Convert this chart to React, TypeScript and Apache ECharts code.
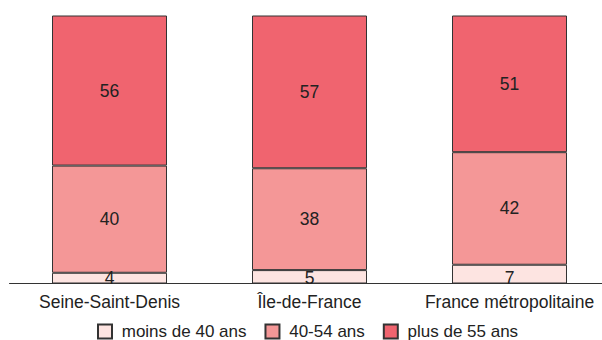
import React, { useEffect, useRef } from "react";
import * as echarts from "echarts";

const categories = ["Seine-Saint-Denis", "Île-de-France", "France métropolitaine"];
const seriesNames = ["moins de 40 ans", "40-54 ans", "plus de 55 ans"];
const under40 = [4, 5, 7];
const from40to54 = [40, 38, 42];
const over55 = [56, 57, 51];
const colors = ["#FDE4E1", "#F49797", "#F0646F"];

export default function App() {
  const ref = useRef<HTMLDivElement>(null);

  useEffect(() => {
    if (!ref.current) return;
    const chart = echarts.init(ref.current, undefined, { renderer: "svg" });
    const values = [under40, from40to54, over55];
    chart.setOption({
      animation: false,
      textStyle: { fontFamily: "Liberation Sans, Arial, sans-serif" },
      grid: { left: 9.5, top: 15.5, width: 600, height: 268, containLabel: false },
      legend: {
        top: 323,
        left: 97,
        padding: 0,
        itemWidth: 14,
        itemHeight: 14,
        itemGap: 18,
        formatter: (name: string) => " " + name,
        textStyle: { fontSize: 17, lineHeight: 16, color: "#222" },
        data: seriesNames.map((n) => ({ name: n, icon: "rect" })),
      },
      xAxis: {
        type: "category",
        data: categories,
        axisLine: { lineStyle: { color: "#333", width: 1 } },
        axisTick: { show: false },
        axisLabel: { fontSize: 17.5, color: "#222", margin: 9, interval: 0, hideOverlap: false },
      },
      yAxis: {
        type: "value",
        min: 0,
        max: 100,
        show: false,
      },
      series: seriesNames.map((name, i) => ({
        name,
        type: "bar",
        stack: "total",
        barWidth: 115,
        data: values[i],
        itemStyle: { color: colors[i], borderColor: "#333", borderWidth: 1 },
        label: {
          show: true,
          position: i === 0 ? "insideBottom" : "inside",
          distance: i === 0 ? -3 : 5,
          fontSize: 17.5,
          color: "#222",
        },
      })),
    });
    return () => chart.dispose();
  }, []);

  return (
    <div style={{ position: "absolute", left: 0, top: 0, width: 602, height: 340, overflow: "hidden", background: "#fff" }}>
      <div ref={ref} style={{ width: 620, height: 340 }} />
    </div>
  );
}
